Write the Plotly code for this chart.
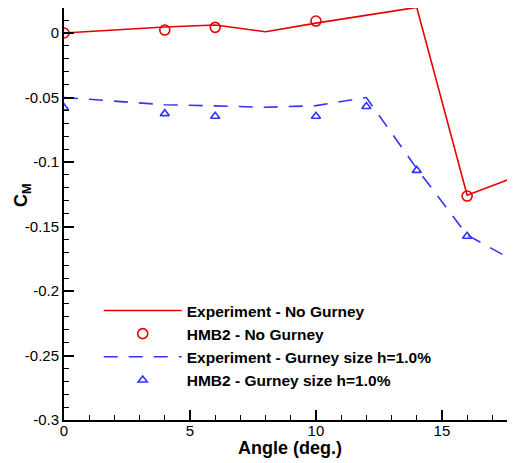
import plotly.graph_objects as go

# Data
exp_ng_x = [0, 4, 6, 8, 10, 14, 16, 18]
exp_ng_y = [0.0, 0.0047, 0.0062, 0.001, 0.0077, 0.0199, -0.1258, -0.111]

hmb_ng_x = [0, 4, 6, 10, 16, 18]
hmb_ng_y = [0.0, 0.0023, 0.0044, 0.0093, -0.1264, -0.112]

exp_g_x = [0, 4, 6, 8, 10, 12, 14, 16, 18]
exp_g_y = [-0.050, -0.0556, -0.0565, -0.0576, -0.0563, -0.050, -0.105, -0.1566, -0.178]

hmb_g_x = [0, 4, 6, 10, 12, 14, 16, 18]
hmb_g_y = [-0.058, -0.0625, -0.0645, -0.0645, -0.057, -0.1065, -0.1575, -0.180]

x_tickvals = [0, 5, 10, 15]
x_ticktext = ["0", "5", "10", "15"]
y_tickvals = [0, -0.05, -0.1, -0.15, -0.2, -0.25, -0.3]
y_ticktext = ["0", "-0.05", "-0.1", "-0.15", "-0.2", "-0.25", "-0.3"]

RED = "#e60000"
BLUE = "#3333ff"
FONT = "Liberation Sans, Arial, sans-serif"

fig = go.Figure()
fig.add_trace(go.Scatter(x=exp_ng_x, y=exp_ng_y, mode="lines",
                         line=dict(color=RED, width=1.6),
                         name="<b>Experiment - No Gurney</b>"))
fig.add_trace(go.Scatter(x=hmb_ng_x, y=hmb_ng_y, mode="markers",
                         marker=dict(symbol="circle-open", size=10, color=RED, line=dict(width=1.6)),
                         name="<b>HMB2 - No Gurney</b>"))
fig.add_trace(go.Scatter(x=exp_g_x, y=exp_g_y, mode="lines",
                         line=dict(color=BLUE, width=1.6, dash="14px,11px"),
                         name="<b>Experiment - Gurney size h=1.0%</b>"))
fig.add_trace(go.Scatter(x=hmb_g_x, y=hmb_g_y, mode="markers",
                         marker=dict(symbol="triangle-up-open", size=8, color=BLUE, line=dict(width=1.6)),
                         name="<b>HMB2 - Gurney size h=1.0%</b>"))

fig.update_layout(
    width=507, height=455,
    margin=dict(l=56, r=0, t=0, b=43, pad=0),
    paper_bgcolor="white", plot_bgcolor="white",
    font=dict(family=FONT, size=15, color="black"),
    showlegend=True,
    legend=dict(x=0.077, y=0.306, xanchor="left", yanchor="top",
                bgcolor="rgba(0,0,0,0)", font=dict(size=15.5, family=FONT),
                itemwidth=78, tracegroupgap=0),
    xaxis=dict(range=[0, 17.9], tickvals=x_tickvals, ticktext=x_ticktext,
               ticks="inside", ticklen=10, tickwidth=2, tickcolor="black",
               minor=dict(ticks="inside", ticklen=5, tickwidth=1, tickcolor="black", dtick=1),
               showline=True, linecolor="black", linewidth=2, showgrid=False, zeroline=False,
               automargin=False, tickfont=dict(size=15), ticklabelstandoff=-4),
    yaxis=dict(range=[-0.3, 0.0194], tickvals=y_tickvals, ticktext=y_ticktext,
               ticks="inside", ticklen=10, tickwidth=2, tickcolor="black",
               minor=dict(ticks="inside", ticklen=5, tickwidth=1, tickcolor="black", dtick=0.01),
               showline=True, linecolor="black", linewidth=2, showgrid=False, zeroline=False,
               automargin=False, tickfont=dict(size=15)),
    annotations=[
        dict(text="<b>Angle (deg.)</b>", xref="paper", yref="paper", x=0.5, y=-0.068,
             xanchor="center", yanchor="middle", showarrow=False, font=dict(size=18)),
        dict(text="<b>C<sub>M</sub></b>", xref="paper", yref="paper", x=-0.093, y=0.546,
             xanchor="center", yanchor="middle", showarrow=False, textangle=-90, font=dict(size=18)),
    ],
)

fig.write_html("out.html")
